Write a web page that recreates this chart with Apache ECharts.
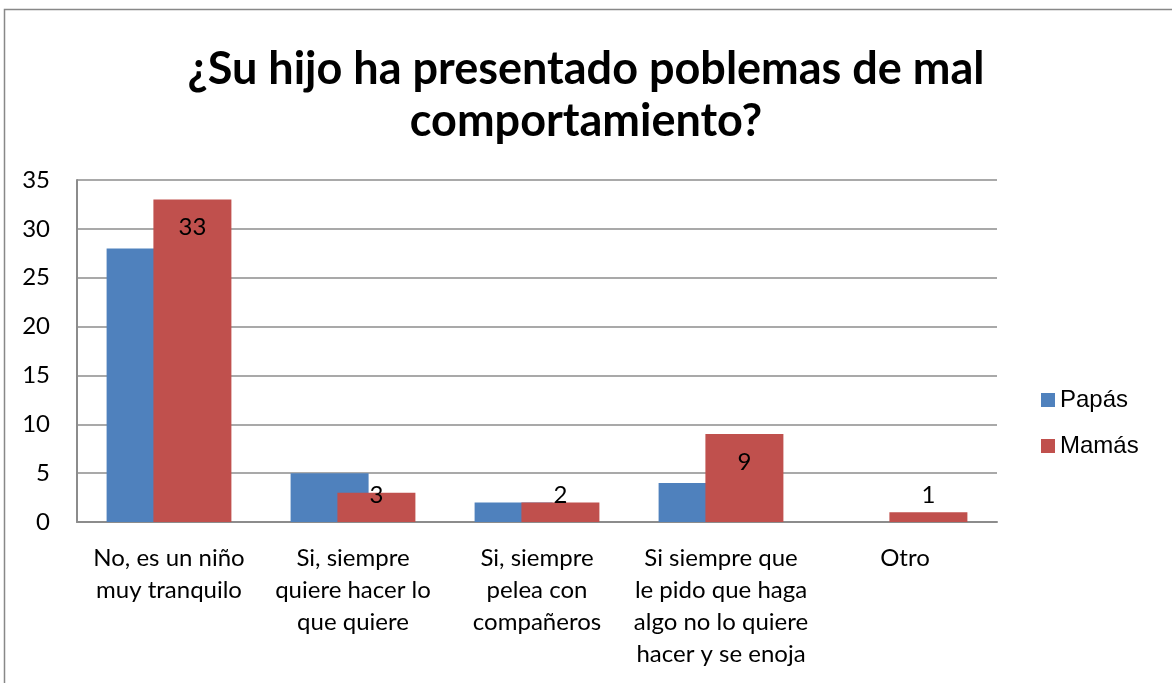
<!DOCTYPE html>
<html>
<head>
<meta charset="utf-8">
<script src="https://cdn.jsdelivr.net/npm/echarts@6/dist/echarts.min.js"></script>
<style>
  html, body { margin: 0; padding: 0; background: #fff; }
  #main { width: 1172px; height: 683px; }
</style>
</head>
<body>
<div id="main"></div>
<script>
// datos del gráfico
const titulo = '¿Su hijo ha presentado poblemas de mal\ncomportamiento?';
const categorias = [
    'No, es un niño\nmuy tranquilo',
    'Si, siempre\nquiere hacer lo\nque quiere',
    'Si, siempre\npelea con\ncompañeros',
    'Si siempre que\nle pido que haga\nalgo no lo quiere\nhacer y se enoja',
    'Otro'
];
const papas = [28, 5, 2, 4, 0];
const mamas = [33, 3, 2, 9, 1];
const ejeY = { min: 0, max: 35, interval: 5 };

const chartDom = document.getElementById('main');
const myChart = echarts.init(chartDom);

const fuente = 'Lato';
const gris = '#8c8c8c';

// etiquetas: dentro arriba si la barra es alta, si no a altura fija
const mamasData = mamas.map((v) => {
    if (v >= 5) {
        return { value: v, label: { position: 'insideTop', distance: 16 } };
    }
    return { value: v, label: { position: 'insideBottom', distance: 15 } };
});

const option = {
    animation: false,
    backgroundColor: '#fff',
    graphic: [
        {
            type: 'rect',
            shape: { x: 4.5, y: 9.5, width: 1300, height: 800 },
            style: { fill: 'none', stroke: '#888', lineWidth: 1.5 },
            silent: true
        }
    ],
    title: {
        text: titulo,
        left: 'center',
        top: 38,
        textStyle: {
            fontFamily: fuente,
            fontWeight: 'bold',
            fontSize: 45,
            lineHeight: 52,
            color: '#000'
        }
    },
    legend: {
        orient: 'vertical',
        left: 1036,
        top: 383,
        itemWidth: 14,
        itemHeight: 14,
        itemGap: 22,
        icon: 'rect',
        textStyle: {
            fontFamily: 'Liberation Sans',
            fontSize: 24,
            color: '#000',
            padding: [0, 0, 0, 0]
        },
        data: ['Papás', 'Mamás']
    },
    grid: {
        left: 77,
        right: 175,
        top: 180,
        bottom: 161,
        containLabel: false
    },
    xAxis: {
        type: 'category',
        data: categorias,
        axisLine: { lineStyle: { color: gris, width: 2 } },
        axisTick: { show: false },
        axisLabel: {
            interval: 0,
            margin: 20,
            fontFamily: fuente,
            fontSize: 24,
            lineHeight: 32,
            color: '#000',
            align: 'center'
        }
    },
    yAxis: {
        type: 'value',
        min: ejeY.min,
        max: ejeY.max,
        interval: ejeY.interval,
        axisLine: { show: true, lineStyle: { color: gris, width: 2 } },
        axisTick: { show: false },
        splitLine: { lineStyle: { color: gris, width: 1.5 } },
        axisLabel: {
            margin: 27,
            fontFamily: fuente,
            fontSize: 24,
            color: '#000'
        }
    },
    series: [
        {
            name: 'Papás',
            type: 'bar',
            data: papas,
            barWidth: 78,
            barGap: '-40%',
            itemStyle: { color: '#4F81BD' }
        },
        {
            name: 'Mamás',
            type: 'bar',
            data: mamasData,
            barWidth: 78,
            itemStyle: { color: '#C0504D' },
            label: {
                show: true,
                fontFamily: fuente,
                fontSize: 24,
                color: '#000'
            }
        }
    ]
};

myChart.setOption(option);
</script>
</body>
</html>
